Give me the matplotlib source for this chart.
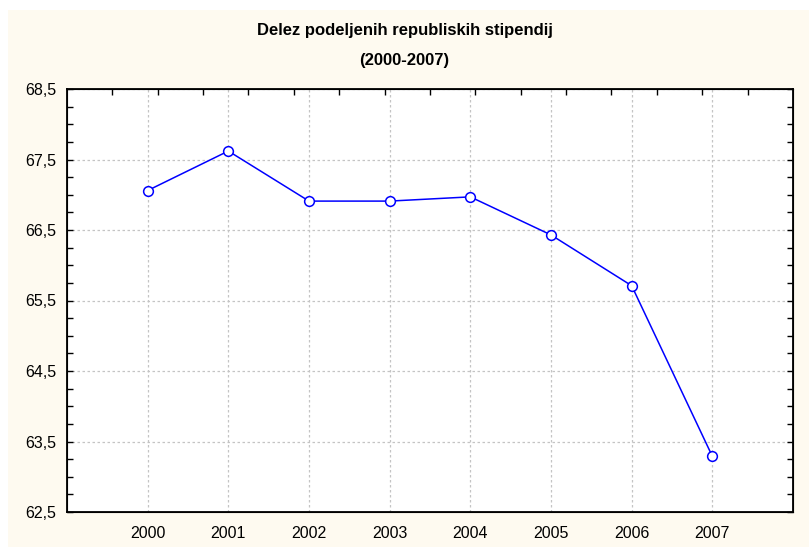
import matplotlib.pyplot as plt
from matplotlib.patches import Rectangle
from matplotlib.ticker import FuncFormatter, MultipleLocator
import numpy as np

plt.rcParams['font.family'] = ['Liberation Sans', 'DejaVu Sans']

leta = ['2000', '2001', '2002', '2003', '2004', '2005', '2006', '2007']
delez = [67.06, 67.62, 66.91, 66.91, 66.97, 66.43, 65.71, 63.29]
y_oznake = [62.5, 63.5, 64.5, 65.5, 66.5, 67.5, 68.5]

fig = plt.figure(figsize=(8.09, 5.49), dpi=100)
fig.patch.set_facecolor('white')
# kremasto ozadje z belim robom
fig.patches.append(Rectangle((8 / 809, 2 / 549), 1 - 8 / 809, 537 / 549,
                             transform=fig.transFigure, facecolor='#fefaf0',
                             edgecolor='none', zorder=-10))

ax = fig.add_axes([67 / 809, 37 / 549, 726 / 809, 423 / 549])
ax.set_facecolor('white')
x = np.arange(len(leta))
ax.plot(x, delez, color='#0000ff', lw=1.1, marker='o', markersize=7,
        markerfacecolor='white', markeredgecolor='#0000ff', markeredgewidth=1.1,
        zorder=3)

ax.set_xlim(-1, len(leta))
ax.set_ylim(y_oznake[0], y_oznake[-1])
ax.set_xticks(x)
ax.set_xticklabels(leta, fontsize=11.5)
ax.set_yticks(y_oznake)
ax.yaxis.set_minor_locator(MultipleLocator(0.25))
ax.yaxis.set_major_formatter(FuncFormatter(lambda v, p: ('%.1f' % v).replace('.', ',')))
ax.tick_params(axis='y', which='both', direction='in', length=4, width=1,
               left=True, right=True, labelsize=11.5, pad=8)
ax.tick_params(axis='x', which='both', length=0, pad=10)
ax.grid(True, which='major', color='#c4c4c4', linestyle=(0, (2, 2)), linewidth=0.9)
for s in ax.spines.values():
    s.set_linewidth(1.3)
    s.set_color('black')

# zgornji robni oznaki
ax2 = ax.twiny()
ax2.set_xlim(0, 16)
ax2.set_xticks(np.arange(1, 16))
ax2.tick_params(axis='x', direction='in', length=4, width=1, labeltop=False)

fig.text(0.5, 1 - 31 / 549, 'Delez podeljenih republiskih stipendij',
         ha='center', va='center', fontsize=12, fontweight='bold')
fig.text(0.5, 1 - 60 / 549, '(2000-2007)',
         ha='center', va='center', fontsize=12, fontweight='bold')

plt.savefig('out.png', dpi=100)
plt.close(fig)
